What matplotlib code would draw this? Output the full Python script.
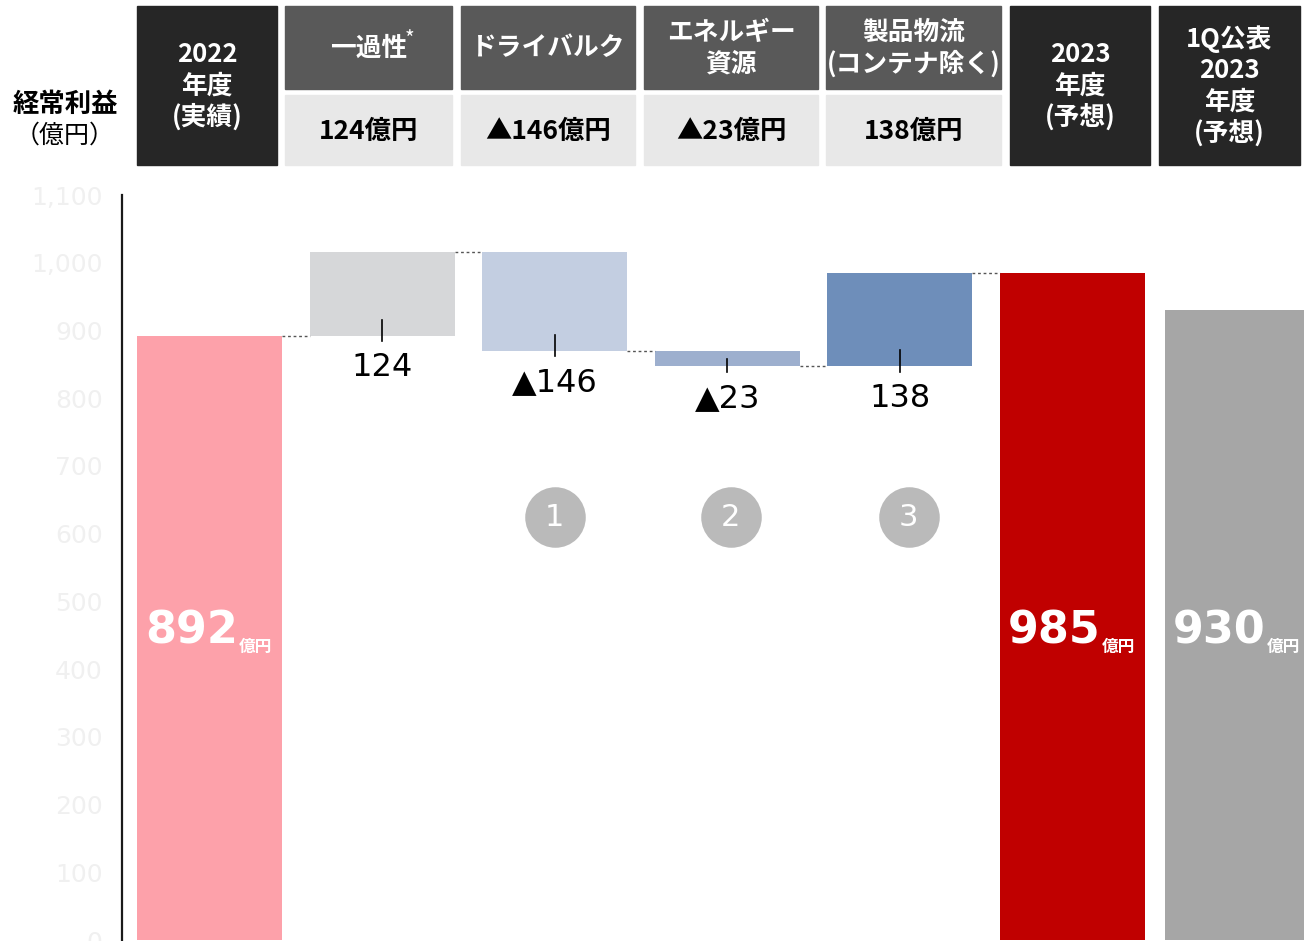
import matplotlib.pyplot as plt
import numpy as np
from matplotlib.patches import Rectangle

plt.rcParams['font.family'] = ['DejaVu Sans', 'Noto Sans CJK JP']
JP = ['Noto Sans CJK JP', 'DejaVu Sans']

# header table
head_labels = ['2022\n年度\n(実績)', '一過性', 'ドライバルク', 'エネルギー\n資源',
               '製品物流\n(コンテナ除く)', '2023\n年度\n(予想)', '1Q公表\n2023\n年度\n(予想)']
head_values = [None, '124億円', '▲146億円', '▲23億円', '138億円', None, None]

# waterfall data (億円)
actual_2022 = 892
changes = [124, -146, -23, 138]
change_labels = ['124', '▲146', '▲23', '138']
forecast_2023 = 985
forecast_1q = 930
yticks = np.arange(0, 1101, 100)

colors = ['#fda1aa', '#d6d7d9', '#c3cee1', '#9dafce', '#6e8eba', '#c00000', '#a6a6a6']
bar_x = [0, 1, 2, 3, 4, 5, 5.94]
bar_w = [0.84, 0.84, 0.84, 0.84, 0.84, 0.84, 0.805]

levels = np.cumsum([actual_2022] + changes)
bottoms = [0] + [min(levels[i], levels[i + 1]) for i in range(4)] + [0, 0]
heights = [actual_2022] + [abs(c) for c in changes] + [forecast_2023, forecast_1q]

W, H = 1310, 941
fig = plt.figure(figsize=(W / 100, H / 100), dpi=100)

# main axes, placed in pixel terms
ax = fig.add_axes([122 / W, 1 / H, (W - 122) / W, 745 / H])
ax.bar(bar_x, heights, bottom=bottoms, width=bar_w, color=colors, zorder=2)
ax.set_xlim(-0.507, 6.376)
ax.set_ylim(0, 1100)
ax.set_yticks(yticks)
ax.set_yticklabels([f'{v:,}' for v in yticks], color='#f0f0f0', fontsize=18)
ax.tick_params(axis='y', length=0, pad=14)
ax.set_xticks([])
for s in ['top', 'right', 'bottom']:
    ax.spines[s].set_visible(False)
ax.spines['left'].set_linewidth(1.6)
ax.spines['left'].set_color('#1a1a1a')

# dotted connectors
for i in range(5):
    x0 = bar_x[i] + bar_w[i] / 2
    x1 = bar_x[i + 1] - bar_w[i + 1] / 2
    ax.plot([x0, x1], [levels[i], levels[i]], color='#555555', lw=1,
            ls=(0, (2, 2)), zorder=3)

# change labels with small ticks
for i, lab in enumerate(change_labels):
    b = bottoms[i + 1]
    x = bar_x[i + 1]
    ax.plot([x, x], [b + min(24, heights[i + 1] * 0.45), b - 8], color='black',
            lw=1.2, zorder=3)
    ax.text(x, b - 24, lab, ha='center', va='top', fontsize=23, color='black')

# big totals inside bars
for i, v in [(0, actual_2022), (5, forecast_2023), (6, forecast_1q)]:
    t = ax.text(bar_x[i] - bar_w[i] / 2 + 0.045, 438, str(v), ha='left',
                va='baseline', fontsize=32, fontweight='bold', color='white', zorder=4)
    ax.annotate('億円', xy=(1, 0), xycoords=t, xytext=(1, 0), textcoords='offset points',
                ha='left', va='baseline', fontsize=12, fontweight='bold',
                color='white', family=JP, zorder=4)

# numbered circles
circle_x = [bar_x[2], bar_x[3] + 0.02, bar_x[4] + 0.05]
ax.scatter(circle_x, [624, 624, 624], s=1900, color='#bababa', zorder=3,
           linewidths=0)
for k, x in enumerate(circle_x):
    ax.text(x, 624, str(k + 1), ha='center', va='center', fontsize=22,
            color='white', zorder=4)

# header overlay in pixel coordinates
hx = fig.add_axes([0, 0, 1, 1])
hx.set_xlim(0, W)
hx.set_ylim(H, 0)
hx.axis('off')
hx.patch.set_alpha(0)

cells = [(137, 277), (285, 452), (461, 635), (644, 818), (826, 1001),
         (1010, 1150), (1159, 1300)]
for (x0, x1), lab, val in zip(cells, head_labels, head_values):
    cx = (x0 + x1) / 2
    if val is None:
        hx.add_patch(Rectangle((x0, 6), x1 - x0, 159, color='#262626'))
        hx.text(cx, 86, lab, ha='center', va='center', color='white',
                fontsize=18.5, fontweight='bold', family=JP, linespacing=1.2)
    else:
        hx.add_patch(Rectangle((x0, 6), x1 - x0, 83, color='#595959'))
        hx.add_patch(Rectangle((x0, 95), x1 - x0, 70, color='#e8e8e8'))
        hx.text(cx, 48, lab, ha='center', va='center', color='white',
                fontsize=18.5, fontweight='bold', family=JP, linespacing=1.2)
        hx.text(cx, 131, val, ha='center', va='center', color='black',
                fontsize=19, fontweight='bold', family=JP)
hx.text(405, 40, '*', ha='left', va='center', color='white', fontsize=15,
        family=JP)

hx.text(65, 104, '経常利益', ha='center', va='center', fontsize=19,
        fontweight='bold', family=JP)
hx.text(65, 136, '（億円）', ha='center', va='center', fontsize=18, family=JP)

fig.savefig('out.png', dpi=100)
